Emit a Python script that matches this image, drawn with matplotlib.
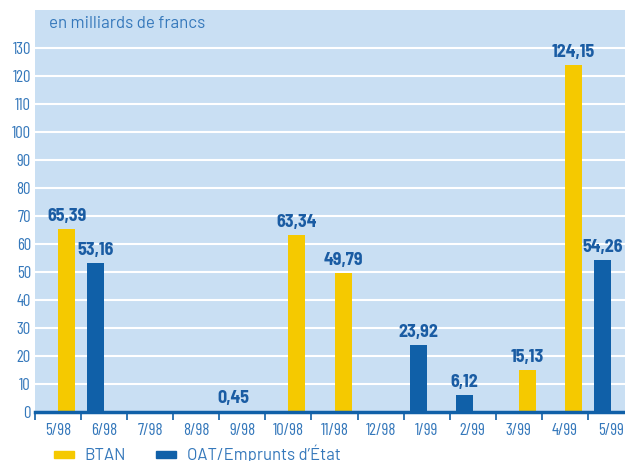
import matplotlib
matplotlib.use("Agg")
import matplotlib.pyplot as plt
import numpy as np
from matplotlib.patches import Patch

months = ["5/98", "6/98", "7/98", "8/98", "9/98", "10/98", "11/98", "12/98",
          "1/99", "2/99", "3/99", "4/99", "5/99"]
btan = [65.39, 0, 0, 0, 0, 63.34, 49.79, 0, 0, 0, 15.13, 124.15, 0]
oat = [0, 53.16, 0, 0, 0.45, 0, 0, 0, 23.92, 6.12, 0, 0, 54.26]
yticks = list(range(0, 140, 10))
unit_label = "en milliards de francs"
legend_labels = ["BTAN", "OAT/Emprunts d\u2019État"]

YELLOW = "#F5C900"
BLUE = "#1060A8"
BG = "#C9DFF3"
TXT = "#3578BB"
VAL = "#1A5CA3"

FAM_T = ["Barlow Condensed", "DejaVu Sans"]
FAM_V = ["Barlow Semi Condensed", "DejaVu Sans"]
FAM2 = ["Barlow", "DejaVu Sans"]

fig = plt.figure(figsize=(6.25, 4.61), dpi=100)
ax = fig.add_axes([35 / 625, (461 - 412.3) / 461, 599 / 625, 402.3 / 461])
ax.set_facecolor(BG)
for s in ax.spines.values():
    s.set_visible(False)

x = np.arange(len(months))
w = 0.37
ax.bar(x - w / 2, oat, width=w, color=BLUE, zorder=3)
ax.bar(x + w / 2, btan, width=w, color=YELLOW, zorder=3)

def lab(xs, vals):
    for xi, v in zip(xs, vals):
        if v:
            ax.annotate(f"{v:.2f}".replace(".", ","), (xi, v), xytext=(0, 3),
                        textcoords="offset points", ha="center", va="bottom",
                        color=VAL, fontsize=13, fontweight="bold", family=FAM_V, zorder=4)

lab(x + w / 2, btan)
lab(x - w / 2, oat)

ax.set_xlim(-0.5, len(months) - 0.5)
ax.set_ylim(0, 143.7)
ax.set_yticks(yticks)
ax.set_yticklabels([str(t) for t in yticks], family=FAM_T, fontsize=12, color=TXT)
ax.tick_params(axis="y", length=0, pad=3)
ax.yaxis.grid(True, color="white", lw=1.5, zorder=1)
ax.set_axisbelow(True)

ax.set_xticks(x)
ax.set_xticklabels(months, family=FAM_T, fontsize=12, color=TXT)
ax.tick_params(axis="x", which="major", length=0, pad=8)
ax.set_xticks(np.arange(-0.5, len(months), 1.0), minor=True)
ax.tick_params(axis="x", which="minor", length=6, width=1.2, color=BLUE, direction="out")

ax.axhline(0, color=BLUE, lw=2.5, zorder=5, clip_on=False)

ax.text(0.024, 0.985, unit_label, transform=ax.transAxes, ha="left", va="top",
        color=TXT, fontsize=12.2, family=FAM2)

handles = [Patch(color=YELLOW), Patch(color=BLUE)]
leg = fig.legend(handles, legend_labels, loc="center left",
                 bbox_to_anchor=(54 / 625, 1 - 454 / 461), borderpad=0, borderaxespad=0,
                 ncol=2, frameon=False, handlelength=1.2, handleheight=0.3,
                 columnspacing=1.8, handletextpad=0.65,
                 prop={"family": FAM2, "size": 12})
for t in leg.get_texts():
    t.set_color(TXT)

fig.savefig("out.png", dpi=100)
